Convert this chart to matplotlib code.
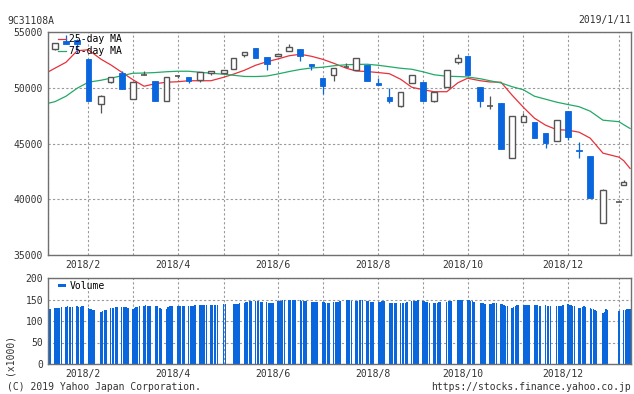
import pandas as pd
import matplotlib
matplotlib.use('Agg')
import matplotlib.pyplot as plt
import matplotlib.dates as mdates
from matplotlib.transforms import ScaledTranslation

plt.rcParams['font.family'] = 'DejaVu Sans Mono'
plt.rcParams['font.size'] = 7

FUND_CODE = '9C31108A'
LAST_DATE = '2019/1/11'

# Tokyo market closures inside the one-year window
HOLIDAYS = ['2018-02-12', '2018-03-21', '2018-04-30', '2018-05-03', '2018-05-04',
            '2018-07-16', '2018-09-17', '2018-09-24', '2018-10-08', '2018-11-23',
            '2018-12-24', '2018-12-31', '2019-01-01', '2019-01-02', '2019-01-03']

# weekly candles, week of 2018/1/15 .. week of 2019/1/7
opens = [53450, 54150, 54300, 52550, 48520, 50520, 51360, 49000, 51150, 50610,
         48770, 51060, 51000, 50700, 51330, 51300, 51690, 52940, 53540, 52730,
         52850, 53300, 53450, 52110, 50850, 51150, 51850, 51600, 52040, 50400,
         49150, 48370, 50470, 50500, 48820, 50110, 52350, 52890, 50110, 48370,
         48640, 43710, 46940, 46940, 45950, 45180, 47900, 44380, 43870, 37890,
         39720, 41240]
highs = [54050, 54700, 54400, 52550, 49350, 50950, 51500, 50500, 51500, 50610,
         51000, 51150, 51000, 51390, 51540, 51630, 52710, 53180, 53540, 52730,
         53070, 53930, 53450, 52110, 50850, 51750, 52200, 52710, 52040, 50850,
         50020, 49660, 51150, 50500, 49660, 51630, 53000, 52890, 50110, 49240,
         48640, 47450, 47750, 46940, 45950, 47150, 47900, 45150, 43870, 40940,
         39720, 41720]
lows = [53350, 53950, 53100, 48790, 47720, 50450, 49870, 49000, 51100, 48770,
        48770, 50850, 50400, 50560, 51150, 51300, 51690, 52760, 52640, 51570,
        52850, 53300, 52400, 51600, 49450, 50610, 51820, 51600, 50610, 50290,
        48610, 48250, 50470, 48820, 48700, 50110, 52130, 51150, 48250, 48080,
        44490, 43710, 46940, 45510, 44560, 45180, 45300, 43710, 40130, 37890,
        39720, 41240]
closes = [54000, 53950, 53950, 48790, 49300, 50920, 49870, 50500, 51150, 48770,
          51000, 51060, 50610, 51390, 51540, 51630, 52710, 53180, 52640, 52130,
          53070, 53690, 52850, 51990, 50160, 51750, 51850, 52710, 50610, 50290,
          48820, 49660, 51150, 48820, 49660, 51630, 52710, 51150, 48770, 48370,
          44490, 47450, 47450, 45510, 45060, 47150, 45600, 44300, 40130, 40820,
          39720, 41540]

# moving averages read at the first day, every candle date, and the last day
ma25 = [51435, 51749, 52286, 53316, 53406, 52555, 52062, 51390, 50719, 50136,
        50360, 50495, 50539, 50629, 50629, 50629, 50943, 51211, 51570, 52017,
        52331, 52582, 52868, 53003, 52823, 52555, 52196, 51749, 51507, 51453,
        51363, 51256, 50763, 50047, 49823, 49644, 49644, 50450, 50853, 50629,
        50521, 50495, 49330, 48255, 47270, 46643, 46240, 46195, 46016, 45479,
        44135, 43777, 43463, 42765]
ma75 = [48614, 48748, 49241, 49957, 50495, 50674, 50853, 51077, 51301, 51319,
        51363, 51435, 51480, 51480, 51390, 51301, 51211, 51122, 51014, 51005,
        51050, 51238, 51453, 51641, 51775, 51838, 51973, 52062, 52089, 52107,
        52017, 51883, 51749, 51659, 51435, 51166, 51032, 51005, 50969, 50808,
        50629, 50432, 50092, 49823, 49241, 48972, 48703, 48497, 48300, 47897,
        47091, 46957, 46688, 46348]

# daily volume (x1000), one row per trading week
volume_weeks = [
    [127, 128],
    [130, 131, 131, 131, 133], [133, 135, 133, 133, 133], [135, 133, 133, 136, 135],
    [131, 127, 127, 125, 125], [122, 123, 125, 126], [130, 131, 131, 132, 132],
    [133, 133, 133, 133, 131], [129, 131, 133, 133, 134], [134, 138, 136, 136, 134],
    [135, 134, 130, 128], [129, 133, 134, 134, 135], [135, 135, 136, 136, 136],
    [135, 136, 136, 136, 138], [138, 137, 138, 138, 138], [137, 137, 137, 137, 137],
    [140, 139], [140, 140, 140, 140, 142], [143, 145, 145, 146, 147],
    [147, 146, 146, 145, 145], [145, 143, 142, 143, 143], [146, 146, 147, 148, 148],
    [148, 149, 149, 148, 148], [148, 147, 147, 146, 146], [145, 145, 145, 145, 145],
    [145, 145, 142, 141, 142], [145, 145, 145, 145, 147], [148, 148, 148, 147],
    [146, 147, 148, 148, 148], [147, 146, 145, 145, 145], [145, 145, 146, 146, 146],
    [142, 143, 142, 142, 142], [142, 142, 143, 143, 145], [146, 146, 146, 147, 148],
    [146, 146, 144, 144, 143], [141, 142, 143, 144, 144], [145, 146, 146, 147],
    [150, 149, 148, 149], [149, 149, 147, 146, 145], [143, 143, 141, 139],
    [139, 140, 141, 142, 141], [140, 139, 137, 135, 134], [131, 133, 136, 137, 137],
    [137, 137, 138, 138, 138], [137, 137, 137, 136, 136], [137, 134, 134, 134],
    [134, 134, 135, 136, 137], [140, 138, 137, 135, 135], [131, 131, 133, 134, 133],
    [131, 128, 127, 126, 124], [119, 121, 127, 125], [123],
    [125, 126, 127, 127, 127],
]

BLUE = '#0a66dd'
HOLLOW = '#555555'
RED = '#e8303a'
GREEN = '#22aa66'
GRID = '#999999'
FRAME = '#707070'
TEXT = '#333333'

# trading calendar
days = pd.bdate_range('2018-01-11', '2019-01-11', freq='C', holidays=HOLIDAYS)
volume = [v for week in volume_weeks for v in week]
assert len(volume) == len(days)
week_first = days.to_series().groupby(days.to_period('W')).first()
candle_dates = week_first.iloc[1:]
day_x = mdates.date2num(days.to_pydatetime())
candle_x = mdates.date2num(pd.DatetimeIndex(candle_dates.values).to_pydatetime())
ma_x = [day_x[0]] + list(candle_x) + [day_x[-1]]

# grid at the first candle of every month, label on even months
month_x, month_labels = [], []
prev = None
for d in pd.DatetimeIndex(week_first.values):
    if prev is None or d.month != prev:
        month_x.append(mdates.date2num(d.to_pydatetime()))
        month_labels.append(f'{d.year}/{d.month}' if d.month % 2 == 0 else '')
    prev = d.month

W, H = 634, 394
fig = plt.figure(figsize=(W / 100, H / 100), dpi=100)


def px_axes(left, top, right, bottom):
    return fig.add_axes([left / W, 1 - bottom / H, (right - left) / W, (bottom - top) / H])


ax = px_axes(48, 32, 631, 255)
axv = px_axes(48, 278, 631, 364)

x0, x1 = day_x[0] - 0.3, day_x[-1] + 0.6
shift = ScaledTranslation(-5 / 100, 0, fig.dpi_scale_trans)
for a in (ax, axv):
    a.set_xlim(x0, x1)
    a.set_xticks(month_x)
    a.set_xticklabels(month_labels)
    a.grid(True, color=GRID, linestyle=(0, (2, 2)), linewidth=0.8)
    a.set_axisbelow(True)
    a.tick_params(length=0, colors=TEXT, labelsize=7)
    a.tick_params(axis='x', pad=3.5)
    a.tick_params(axis='y', pad=3.5)
    for s in a.spines.values():
        s.set_color(FRAME)
        s.set_linewidth(1)
    for lab in a.get_xticklabels():
        lab.set_transform(lab.get_transform() + shift)

# price panel
ax.set_ylim(35000, 55000)
ax.set_yticks([35000, 40000, 45000, 50000, 55000])
ma25_line, = ax.plot(ma_x, ma25, color=RED, lw=0.9, zorder=2)
ma75_line, = ax.plot(ma_x, ma75, color=GREEN, lw=0.9, zorder=2)

body_w = 3.5
for x, o, h, l, c in zip(candle_x, opens, highs, lows, closes):
    if c < o:
        ax.vlines(x, l, h, color=BLUE, lw=0.9, zorder=3)
        ax.bar(x, o - c, bottom=c, width=body_w, color=BLUE, edgecolor=BLUE,
               linewidth=0.6, zorder=4)
    elif c > o:
        ax.vlines(x, l, h, color=HOLLOW, lw=0.9, zorder=3)
        ax.bar(x, c - o, bottom=o, width=body_w, facecolor='white', edgecolor=HOLLOW,
               linewidth=1.0, zorder=4)
    else:
        ax.vlines(x, l, h, color=HOLLOW, lw=0.9, zorder=3)
        ax.hlines(c, x - body_w / 2, x + body_w / 2, color=HOLLOW, lw=1.2, zorder=4)

leg = ax.legend([ma25_line, ma75_line], ['25-day MA', '75-day MA'], loc='upper left',
                bbox_to_anchor=(10 / 583, 1 - 2 / 223), frameon=False, fontsize=7,
                handlelength=0.8, handletextpad=0.35, labelspacing=0.25,
                borderpad=0, borderaxespad=0)
leg.set_zorder(6)

# volume panel
axv.set_ylim(0, 200)
axv.set_yticks([0, 50, 100, 150, 200])
vol_bars = axv.bar(day_x, volume, width=0.85, color=BLUE, linewidth=0)
axv.legend([vol_bars], ['Volume'], loc='upper left', bbox_to_anchor=(10 / 583, 1 - 3 / 86),
           frameon=False, fontsize=7, handlelength=0.8, handletextpad=0.4,
           handleheight=0.12, borderpad=0, borderaxespad=0)

fig.text(7 / W, 1 - 21 / H, FUND_CODE, ha='left', va='center', color=TEXT)
fig.text(631 / W, 1 - 20 / H, LAST_DATE, ha='right', va='center', color=TEXT)
fig.text(10 / W, 1 - 354 / H, '(x1000)', rotation=90, ha='center', va='center', color=TEXT)
fig.text(7 / W, 1 - 386.5 / H, '(C) 2019 Yahoo Japan Corporation.', ha='left',
         va='center', color=TEXT)
fig.text(631 / W, 1 - 386.5 / H, 'https://stocks.finance.yahoo.co.jp', ha='right',
         va='center', color=TEXT)

fig.savefig('out.png', dpi=100)
